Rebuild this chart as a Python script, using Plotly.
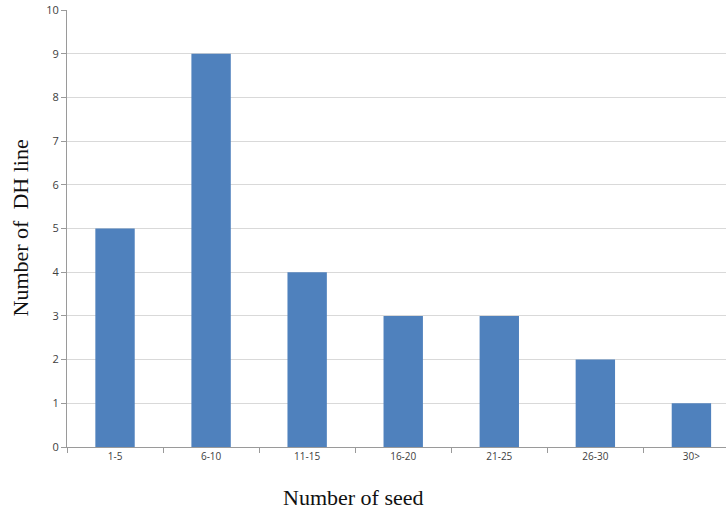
import plotly.graph_objects as go

categories = ["1-5", "6-10", "11-15", "16-20", "21-25", "26-30", "30>"]
counts = [5, 9, 4, 3, 3, 2, 1]

fig = go.Figure(go.Bar(x=categories, y=counts, marker=dict(color="#4F81BD", line=dict(width=0))))

title_font = dict(family="Liberation Serif, Times New Roman, serif", size=22, color="#111")

fig.update_layout(
    width=726, height=510,
    margin=dict(l=67, r=0, t=10, b=63),
    paper_bgcolor="white", plot_bgcolor="white",
    bargap=0.59,
    showlegend=False,
    font=dict(family="Open Sans, Liberation Sans, sans-serif", size=11, color="#404040"),
    annotations=[
        dict(text="Number of seed", xref="paper", yref="paper", x=0.434, y=0,
             xanchor="center", yanchor="middle", yshift=-50, showarrow=False, font=title_font),
        dict(text="Number of  DH line", xref="paper", yref="paper", x=0, y=0.5,
             xanchor="center", yanchor="middle", xshift=-47, textangle=-90, showarrow=False, font=title_font),
    ],
)
fig.update_xaxes(
    type="category", range=[-0.5, 6.36],
    showline=True, linecolor="#9a9a9a", linewidth=1,
    ticks="outside", tickson="boundaries", ticklen=5, tickcolor="#9a9a9a",
    showgrid=False, automargin=False,
    tickfont=dict(size=10),
)
fig.update_yaxes(
    range=[0, 10], dtick=1,
    showline=True, linecolor="#9a9a9a", linewidth=1,
    ticks="outside", ticklen=5, tickcolor="#9a9a9a",
    showgrid=True, gridcolor="#d9d9d9", gridwidth=1,
    zeroline=False, automargin=False, ticklabeloverflow="allow",
    tickfont=dict(size=11),
)

fig.write_html("out.html", config={"displayModeBar": False},
               post_script="document.body.style.margin='0';")
